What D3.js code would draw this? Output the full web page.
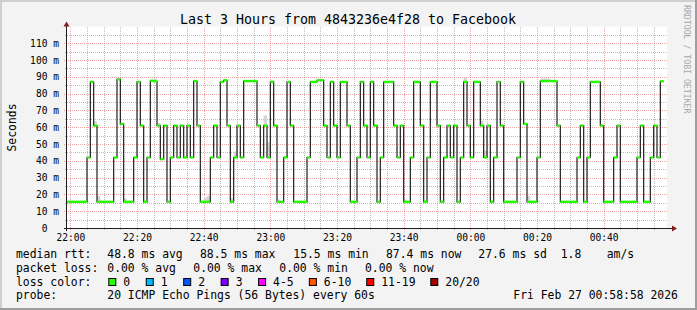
<!DOCTYPE html>
<html>
<head>
<meta charset="utf-8">
<script src="https://cdn.jsdelivr.net/npm/d3@7"></script>
<style>
html, body { margin: 0; padding: 0; background: #f3f3f3; }
svg { display: block; }
text { font-family: "DejaVu Sans Mono", monospace; fill: #000; }
</style>
</head>
<body>
<svg id="chart" width="697" height="310"></svg>
<script>
// smokeping style graph, last 3 hours, one value per minute
var START = new Date(2026, 1, 26, 21, 59);
var END   = new Date(2026, 1, 27, 0, 59);

// median rtt in ms, one per minute from START
var rtt = [
  15.6,15.6,15.6,15.6,15.6,15.6,42,87,61,15.6,15.6,15.6,15.6,15.6,42,88.5,62,15.6,15.6,15.6,
  42,87,61,15.6,42,87.7,87.4,61,41,61,15.6,42,61,42,61,42,61,42,87.5,61,
  15.6,15.6,15.6,42,61,42,87,88,61,15.6,42,61,42,87.5,87.5,87.5,87.5,61,42,61,
  42,87,61,15.6,15.6,42,87,61,15.6,15.6,15.6,15.6,42,87,87,88,88,61,42,87,
  61,42,87,87,61,15.6,15.6,42,87,61,42,87,61,15.6,42,87,87,87,61,42,
  61,15.6,15.6,42,87,87,61,15.6,42,87,87,61,15.6,42,61,42,61,15.6,42,87,
  61,42,87,87,61,42,61,15.6,42,87,61,15.6,15.6,15.6,15.6,42,87,62,15.6,15.6,
  15.6,42,87.5,87.5,87.5,87.5,87.5,61,15.6,15.6,15.6,15.6,15.6,42,61,15.6,42,87,87,87,
  61,15.6,15.6,15.6,42,61,15.6,15.6,15.6,15.6,15.6,42,61,15.6,15.6,42,61,42,87.4
];

// visible smoke: [minute index, low ms, high ms]
var smoke = [
  [8,61,63.5],[9,15.6,19],[17,15.6,17.5],[26,87.4,89],[27,61,62.5],[41,15.6,18],[42,15.6,19],
  [49,15.6,18],[50,42,45.5],[59,61,67],[60,42,51],[63,15.6,17],[101,15.6,17],[106,61,62],
  [119,87,89.5],[124,61,64],[125,42,46],[138,15.6,19],[142,87.5,89],[143,87.5,89],[144,87.5,89]
];

var yTicks     = [0,10,20,30,40,50,60,70,80,90,100,110];
var lossLabels = ["0","1","2","3","4-5","6-10","11-19","20/20"];
var lossColors = ["#26ff00","#00b8ff","#0059ff","#7e00ff","#ff00ff","#ff5500","#ff0000","#a10000"];

var TITLE = "Last 3 Hours from 4843236e4f28 to Facebook";
var rttStats  = ["48.8 ms avg","88.5 ms max","15.5 ms min","87.4 ms now","27.6 ms sd","1.8","am/s"];
var lossStats = ["0.00 % avg","0.00 % max","0.00 % min","0.00 % now"];
var PROBE = "20 ICMP Echo Pings (56 Bytes) every 60s";
var STAMP = "Fri Feb 27 00:58:58 2026";

var W = 697, H = 310;
var L = 67, R = 667, T = 26.5, B = 228;
var LEG_FONT = "11.4px", AXIS_FONT = "9.6px";
var MINOR_COL = 'rgba(143,143,143,0.6)', MAJOR_COL = 'rgba(222,80,80,0.5)';

var svg = d3.select('#chart');

var x = d3.scaleTime().domain([START, END]).range([L, R]);
var y = d3.scaleLinear().domain([0, 120]).range([B, T]);
var minute = function(i) { return d3.timeMinute.offset(START, i); };

// frame
svg.append('rect').attr('x',0).attr('y',0).attr('width',W).attr('height',H).attr('fill','#f3f3f3');
svg.append('rect').attr('x',0).attr('y',0).attr('width',W).attr('height',2).attr('fill','#cfcfcf');
svg.append('rect').attr('x',0).attr('y',0).attr('width',2).attr('height',H).attr('fill','#cfcfcf');
svg.append('rect').attr('x',0).attr('y',H-2).attr('width',W).attr('height',2).attr('fill','#9e9e9e');
svg.append('rect').attr('x',W-2).attr('y',0).attr('width',2).attr('height',H).attr('fill','#9e9e9e');

// canvas
svg.append('rect').attr('x',L).attr('y',T).attr('width',R-L).attr('height',B-T).attr('fill','#fff');

// grid
var grid = svg.append('g').attr('shape-rendering','crispEdges');
var minorT = d3.timeMinute.every(5).range(START, END);
minorT.forEach(function(t) {
  var major = t.getMinutes() % 20 === 0;
  var px = Math.round(x(t)) + 0.5;
  grid.append('line')
    .attr('x1', px).attr('x2', px).attr('y1', T).attr('y2', B + (major ? 3 : 2))
    .attr('stroke', major ? MAJOR_COL : MINOR_COL)
    .attr('stroke-dasharray', '1,1');
});
d3.range(5, 120, 5).forEach(function(v) {
  var major = v % 10 === 0;
  var py = Math.round(y(v)) + 0.5;
  grid.append('line')
    .attr('x1', L - (major ? 3 : 2)).attr('x2', R).attr('y1', py).attr('y2', py)
    .attr('stroke', major ? MAJOR_COL : MINOR_COL)
    .attr('stroke-dasharray', '1,1');
});

// smoke
svg.append('g').selectAll('rect')
  .data(smoke)
  .enter()
  .append('rect')
  .attr('x', function(d) { return x(minute(d[0])); })
  .attr('width', function(d) { return x(minute(d[0] + 1)) - x(minute(d[0])); })
  .attr('y', function(d) { return y(d[2]); })
  .attr('height', function(d) { return y(d[1]) - y(d[2]); })
  .attr('fill', '#d6d6d6');

// median line (black steps)
var pts = rtt.map(function(v, i) { return { t: minute(i), v: v }; });
pts.push({ t: minute(rtt.length), v: rtt[rtt.length - 1] });
var line = d3.line()
  .x(function(d) { return x(d.t); })
  .y(function(d) { return y(d.v); })
  .curve(d3.curveStepAfter);
svg.append('path').datum(pts)
  .attr('d', line)
  .attr('fill', 'none')
  .attr('stroke', '#202020')
  .attr('stroke-width', 1.2);

// loss coloured bands on the median (loss is 0 everywhere)
svg.append('g').selectAll('rect')
  .data(rtt)
  .enter()
  .append('rect')
  .attr('x', function(d, i) { return x(minute(i)); })
  .attr('width', function(d, i) { return x(minute(i + 1)) - x(minute(i)); })
  .attr('y', function(d) { return y(d) - 1.2; })
  .attr('height', 2.4)
  .attr('fill', lossColors[0]);

// axes
var xAxis = d3.axisBottom(x)
  .tickValues(d3.timeMinute.every(20).range(START, END))
  .tickFormat(d3.timeFormat('%H:%M'))
  .tickSize(0).tickPadding(6);
var gx = svg.append('g').attr('transform', 'translate(0,' + B + ')').call(xAxis);
gx.select('.domain').remove();
gx.selectAll('text').style('font-family', '"DejaVu Sans Mono", monospace').style('font-size', AXIS_FONT).attr('fill', '#000');

var yAxis = d3.axisLeft(y)
  .tickValues(yTicks)
  .tickFormat(function(d) { return d === 0 ? '0\u00a0\u00a0' : d + ' m'; })
  .tickSize(0).tickPadding(8);
var gy = svg.append('g').attr('transform', 'translate(' + L + ',0)').call(yAxis);
gy.select('.domain').remove();
gy.selectAll('text').style('font-family', '"DejaVu Sans Mono", monospace').style('font-size', AXIS_FONT).attr('fill', '#000');

svg.append('line').attr('x1', L - 3).attr('x2', R + 5).attr('y1', B + 0.5).attr('y2', B + 0.5)
  .attr('stroke', '#1f1f1f').attr('shape-rendering', 'crispEdges');
svg.append('line').attr('x1', L - 0.5).attr('x2', L - 0.5).attr('y1', B + 3).attr('y2', T - 3)
  .attr('stroke', '#1f1f1f').attr('shape-rendering', 'crispEdges');
svg.append('path').attr('d', 'M' + (L - 3.5) + ',' + T + 'L' + (L + 2.5) + ',' + T + 'L' + (L - 0.5) + ',' + (T - 5) + 'Z')
  .attr('fill', '#801f1f');
svg.append('path').attr('d', 'M' + (R + 5) + ',' + (B - 2.5) + 'L' + (R + 5) + ',' + (B + 3.5) + 'L' + (R + 10) + ',' + (B + 0.5) + 'Z')
  .attr('fill', '#801f1f');

// title and side labels
svg.append('text').attr('x', 348).attr('y', 24).attr('text-anchor', 'middle')
  .style('font-size', '13.3px').text(TITLE);
svg.append('text').attr('transform', 'translate(16,127.5) rotate(-90)').attr('text-anchor', 'middle')
  .style('font-size', LEG_FONT).text('Seconds');
svg.append('text').attr('transform', 'translate(684,5) rotate(90)')
  .style('font-size', '8.2px').style('fill', '#a8a8a8').text('RRDTOOL / TOBI OETIKER');

// legend
var leg = svg.append('g').style('font-size', LEG_FONT).attr('xml:space', 'preserve');
var put = function(px, py, s) { leg.append('text').attr('x', px).attr('y', py).text(s); };

put(16, 258.3, 'median rtt:');
[107.3, 200, 293.3, 386, 478.3, 560.7, 606.7].forEach(function(px, i) { put(px, 258.3, rttStats[i]); });

put(16, 271.8, 'packet loss:');
[107.3, 193.3, 279.3, 365].forEach(function(px, i) { put(px, 271.8, lossStats[i]); });

put(16, 285.5, 'loss color:');
var sx = 108.3;
lossLabels.forEach(function(lbl, i) {
  leg.append('rect').attr('x', sx + 0.5).attr('y', 278.5).attr('width', 7).attr('height', 7)
    .attr('fill', lossColors[i]).attr('stroke', '#000').attr('stroke-width', 1);
  put(sx + 15, 285.5, lbl);
  sx += 30.8 + 6.65 * lbl.length;
});

put(16, 299.2, 'probe:');
put(107.3, 299.2, PROBE);
put(513.3, 299.2, STAMP);
</script>
</body>
</html>
